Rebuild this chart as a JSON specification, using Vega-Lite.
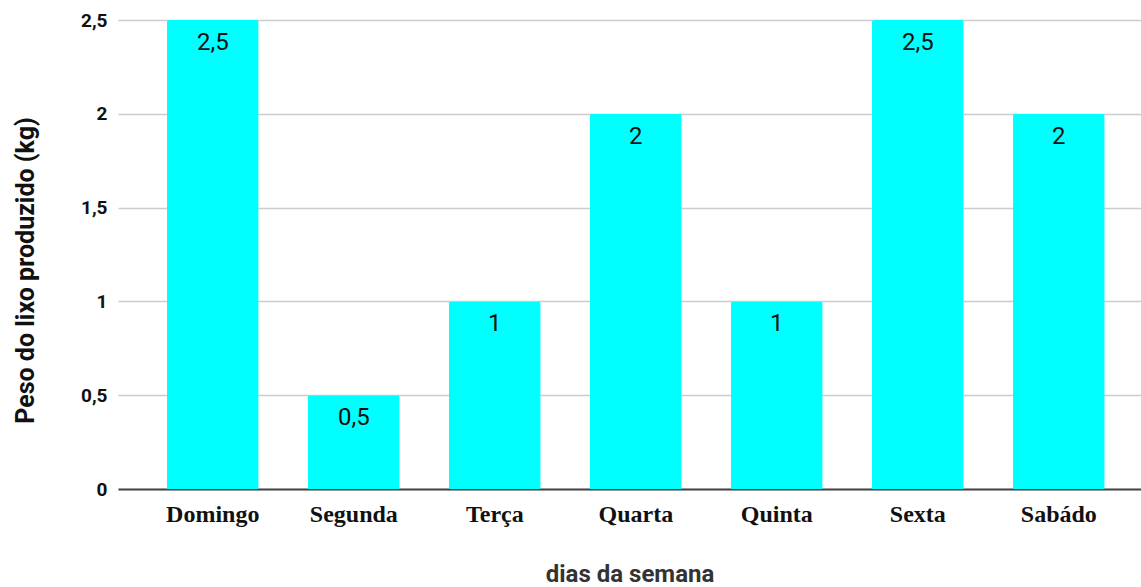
{
  "$schema": "https://vega.github.io/schema/vega-lite/v6.json",
  "width": 1023,
  "height": 469,
  "autosize": {"type": "none"},
  "padding": {"left": 118, "top": 20, "right": 0, "bottom": 98},
  "background": "white",
  "config": {
    "view": {"stroke": null},
    "locale": {"number": {"decimal": ",", "thousands": ".", "grouping": [3], "currency": ["", ""]}}
  },
  "data": {
    "values": [
      {"dia": "Domingo", "peso": 2.5},
      {"dia": "Segunda", "peso": 0.5},
      {"dia": "Terça", "peso": 1},
      {"dia": "Quarta", "peso": 2},
      {"dia": "Quinta", "peso": 1},
      {"dia": "Sexta", "peso": 2.5},
      {"dia": "Sabádo", "peso": 2}
    ]
  },
  "encoding": {
    "x": {
      "field": "dia", "type": "nominal", "sort": null,
      "scale": {"paddingInner": 0.35, "paddingOuter": 0.3025, "align": 0.574},
      "axis": {
        "title": "dias da semana", "labelAngle": 0,
        "labelFont": "Liberation Serif", "labelFontWeight": "bold", "labelFontSize": 24, "labelColor": "#111",
        "labelPadding": 13, "ticks": false, "domainColor": "#444", "domainWidth": 2,
        "titleFont": "Roboto", "titleFontWeight": "bold", "titleFontSize": 24, "titleColor": "#333",
        "titlePadding": 36
      }
    },
    "y": {
      "field": "peso", "type": "quantitative",
      "scale": {"domain": [0, 2.5], "nice": false},
      "axis": {
        "title": "Peso do lixo produzido (kg)", "values": [0, 0.5, 1, 1.5, 2, 2.5], "format": ",.1~f",
        "labelFont": "Roboto", "labelFontWeight": "bold", "labelFontSize": 19, "labelColor": "#111",
        "labelPadding": 11, "ticks": false, "domain": false, "gridColor": "#cccccc", "gridWidth": 1.5,
        "titleFont": "Roboto", "titleFontWeight": "bold", "titleFontSize": 25, "titleColor": "#111",
        "titlePadding": 42, "titleY": 250
      }
    }
  },
  "layer": [
    {"mark": {"type": "bar", "color": "#00ffff", "cornerRadiusTopLeft": 2, "cornerRadiusTopRight": 2}},
    {
      "mark": {"type": "text", "baseline": "top", "dy": 11, "font": "Roboto", "fontSize": 24, "color": "#111"},
      "encoding": {"text": {"field": "peso", "type": "quantitative", "format": ",.1~f"}}
    }
  ]
}
